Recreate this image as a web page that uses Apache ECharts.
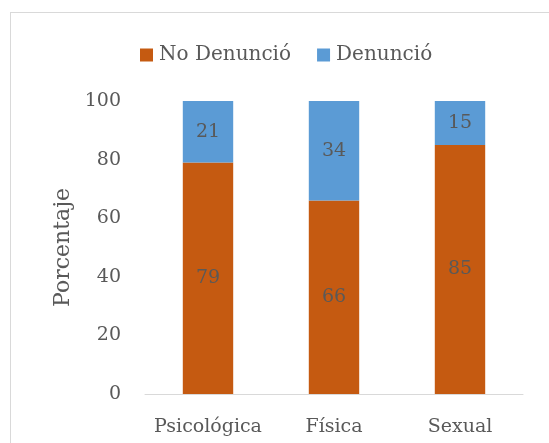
<!DOCTYPE html>
<html>
<head>
<meta charset="utf-8">
<script src="https://cdn.jsdelivr.net/npm/echarts@6/dist/echarts.min.js"></script>
<style>
  html, body { margin: 0; padding: 0; background: #fff; }
  #frame { position: absolute; left: 10px; top: 12px; width: 600px; height: 500px; border: 1px solid #d9d9d9; }
  #chart { position: absolute; left: 0; top: 0; width: 549px; height: 443px; }
</style>
</head>
<body>
<div id="frame"></div>
<div id="chart"></div>
<script>
const categories = ['Psicológica', 'Física', 'Sexual']
const noDenuncio = [79, 66, 85]
const denuncio = [21, 34, 15]
const yTicks = { min: 0, max: 100, interval: 20 }

const font = 'DejaVu Serif'
const textColor = '#595959'

const myChart = echarts.init(document.getElementById('chart'))

const labelStyle = {
  show: true,
  position: 'inside',
  color: textColor,
  fontFamily: font,
  fontSize: 19
}

myChart.setOption({
  animation: false,
  color: ['#C55A11', '#5B9BD5'],
  legend: {
    data: ['No Denunció', 'Denunció'],
    top: 40,
    left: 135,
    itemWidth: 13,
    itemHeight: 13,
    itemGap: 26,
    icon: 'rect',
    textStyle: { color: textColor, fontFamily: font, fontSize: 20, padding: [0, 0, 0, 1] }
  },
  grid: {
    left: 145,
    right: 26,
    top: 101,
    bottom: 49
  },
  xAxis: {
    type: 'category',
    data: categories,
    axisLine: { lineStyle: { color: '#d9d9d9', width: 1 } },
    axisTick: { show: false },
    axisLabel: { interval: 0, color: textColor, fontFamily: font, fontSize: 19, margin: 24 }
  },
  yAxis: {
    type: 'value',
    min: yTicks.min,
    max: yTicks.max,
    interval: yTicks.interval,
    name: 'Porcentaje',
    nameLocation: 'middle',
    nameGap: 71,
    nameTextStyle: { color: textColor, fontFamily: font, fontSize: 22 },
    splitLine: { show: false },
    axisLine: { show: false },
    axisTick: { show: false },
    axisLabel: { color: textColor, fontFamily: font, fontSize: 19, margin: 24 }
  },
  series: [
    {
      name: 'No Denunció',
      type: 'bar',
      stack: 'Total',
      barWidth: '40%',
      label: labelStyle,
      data: noDenuncio
    },
    {
      name: 'Denunció',
      type: 'bar',
      stack: 'Total',
      barWidth: '40%',
      label: labelStyle,
      data: denuncio
    }
  ]
})
</script>
</body>
</html>
